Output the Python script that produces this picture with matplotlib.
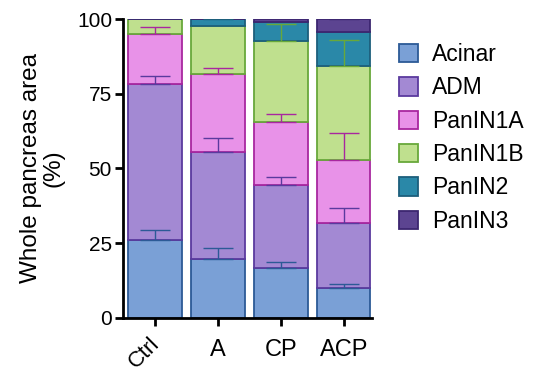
import matplotlib.pyplot as plt
import numpy as np

plt.rcParams['font.family'] = ['Liberation Sans', 'DejaVu Sans']

groups = ['Ctrl', 'A', 'CP', 'ACP']
layers = ['Acinar', 'ADM', 'PanIN1A', 'PanIN1B', 'PanIN2', 'PanIN3']

# mean % of whole pancreas area per layer (rows follow layers, columns follow groups)
acinar = [26.1, 19.7, 16.7, 10.0]
adm = [52.2, 35.8, 27.8, 21.8]
panin1a = [16.7, 26.1, 21.1, 21.0]
panin1b = [5.0, 16.1, 27.0, 31.5]
panin2 = [0.0, 2.3, 6.4, 11.4]
panin3 = [0.0, 0.0, 1.0, 4.3]

# upper error (SEM)
acinar_err = [3.3, 3.7, 2.0, 1.4]
adm_err = [2.7, 4.7, 2.7, 5.0]
panin1a_err = [2.3, 2.0, 2.6, 9.1]
panin1b_err = [0.0, 0.0, 5.7, 8.7]
panin2_err = [0.0, 0.3, 0.0, 0.0]
panin3_err = [0.0, 0.0, 0.0, 0.4]

values = [acinar, adm, panin1a, panin1b, panin2, panin3]
errors = [acinar_err, adm_err, panin1a_err, panin1b_err, panin2_err, panin3_err]

fills = ['#7aa0d6', '#a389d3', '#e892e8', '#bfe08e', '#2a88a8', '#5c4491']
edges = ['#2c5a96', '#5a3a9e', '#a8279f', '#68a83a', '#1d5f7c', '#3c2670']

fig = plt.figure(figsize=(5.33, 3.74), dpi=100)
ax = fig.add_axes([0.231, 0.150, 0.467, 0.799])

x = np.arange(len(groups))
bottom = np.zeros(len(groups))
for name, vals, errs, fc, ec in zip(layers, values, errors, fills, edges):
    vals = np.array(vals)
    ax.bar(x, vals, width=0.85, bottom=bottom, color=fc, edgecolor=ec,
           linewidth=1.3, label=name, zorder=2)
    top = bottom + vals
    errs = np.array(errs)
    mask = errs > 0
    ax.errorbar(x[mask], top[mask], yerr=[np.zeros(mask.sum()), errs[mask]],
                fmt='none', ecolor=ec, elinewidth=1.0, capsize=11,
                capthick=1.0, zorder=3)
    bottom = top

ax.set_xlim(-0.51, 3.45)
ax.set_ylim(0, 100)
ax.set_yticks([0, 25, 50, 75, 100])
ax.set_xticks(x)
ax.set_xticklabels(groups, fontsize=17)
lab = ax.get_xticklabels()[0]
lab.set_rotation(45)
lab.set_ha('right')
lab.set_va('center_baseline')
lab.set_fontsize(16)
lab.set_rotation_mode('anchor')
ax.tick_params(axis='y', labelsize=15, width=2, length=6, pad=2)
ax.tick_params(axis='x', width=2, length=6, pad=9)
for s in ['top', 'right']:
    ax.spines[s].set_visible(False)
for s in ['left', 'bottom']:
    ax.spines[s].set_linewidth(2)
ax.set_ylabel('Whole pancreas area\n(%)', fontsize=17.5, linespacing=1.05,
              labelpad=9)

ax.legend(loc='upper left', bbox_to_anchor=(1.07, 0.95), frameon=False,
          fontsize=16.5, handlelength=0.85, handleheight=0.85, labelspacing=0.45,
          handletextpad=0.6, borderaxespad=0)

fig.savefig('out.png', dpi=100)
